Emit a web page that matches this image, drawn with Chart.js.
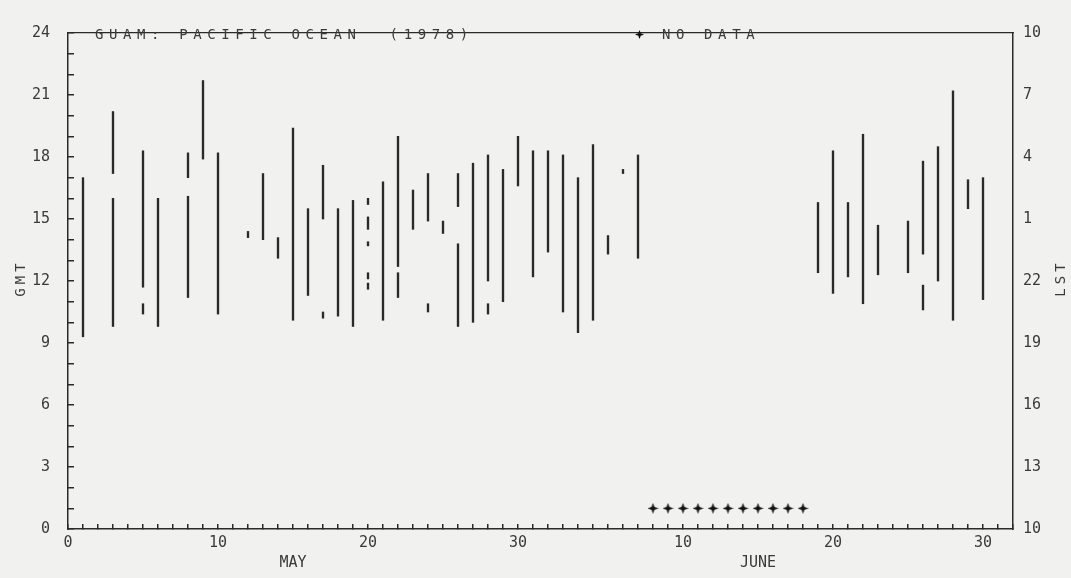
<!doctype html>
<html lang="en">
<head>
<meta charset="UTF-8" />
<title>Guam 1978</title>
<style>
  html, body { margin: 0; padding: 0; background: #f1f1ef; }
  #wrap { width: 1071px; height: 578px; }
</style>
</head>
<body>
<div id="wrap"><canvas id="chart"></canvas></div>

<script src="https://cdn.jsdelivr.net/npm/chart.js"></script>
<script>
// observation segments: day counted from May 0, start / end hour (GMT)
const segDay = [1,3,3,5,5,6,8,8,9,10,12,13,14,15,16,17,17,18,19,20,20,20,20,20,21,22,22,23,24,24,25,26,26,27,28,28,29,30,31,32,33,34,35,36,37,38,50,51,52,53,54,56,57,57,58,59,60,61];
const segStart = [9.3,17.2,9.8,11.7,10.4,9.8,17.0,11.2,17.9,10.4,14.1,14.0,13.1,10.1,11.3,15.0,10.2,10.3,9.8,15.7,14.5,13.7,12.1,11.6,10.1,12.7,11.2,14.5,14.9,10.5,14.3,15.6,9.8,10.0,12.0,10.4,11.0,16.6,12.2,13.4,10.5,9.5,10.1,13.3,17.2,13.1,12.4,11.4,12.2,10.9,12.3,12.4,13.3,10.6,12.0,10.1,15.5,11.1];
const segEnd = [17.0,20.2,16.0,18.3,10.9,16.0,18.2,16.1,21.7,18.2,14.4,17.2,14.1,19.4,15.5,17.6,10.5,15.5,15.9,16.0,15.1,13.9,12.4,11.9,16.8,19.0,12.4,16.4,17.2,10.9,14.9,17.2,13.8,17.7,18.1,10.9,17.4,19.0,18.3,18.3,18.1,17.0,18.6,14.2,17.4,18.1,15.8,18.3,15.8,19.1,14.7,14.9,17.8,11.8,18.5,21.2,16.9,17.0];

// days with no data (June 8 - June 18), marked at 1 GMT
const noDataDays = [39,40,41,42,43,44,45,46,47,48,49];
const noDataHour = 1;

// axis labels
const xLabelDays = [0,10,20,30,41,51,61];
const xLabelText = ['0','10','20','30','10','20','30'];
const monthDays = [15,46];
const monthNames = ['MAY','JUNE'];
const gmtTicks = [0,3,6,9,12,15,18,21,24];
const lstLabels = ['10','13','16','19','22','1','4','7','10'];

const ink = '#2a2a2a';
const textInk = '#3a3a3a';
const monoFont = 'DejaVu Sans Mono';

// little four pointed star for the "no data" marks
function makeStar(size) {
    const c = document.createElement('canvas');
    c.width = size; c.height = size;
    const g = c.getContext('2d');
    const m = size / 2, r = size / 2, ri = size * 0.18;
    g.fillStyle = '#111';
    g.beginPath();
    for (let i = 0; i < 8; i++) {
        const a = -Math.PI / 2 + i * Math.PI / 4;
        const rr = i % 2 === 0 ? r : ri;
        g.lineTo(m + rr * Math.cos(a), m + rr * Math.sin(a));
    }
    g.closePath();
    g.fill();
    return c;
}
const star = makeStar(11);

const dayTicks = [];
for (let d = 0; d <= 63; d++) dayTicks.push(d);
const hourTicks = [];
for (let h = 0; h <= 24; h++) hourTicks.push(h);

const textPlugin = {
    id: 'plotText',
    afterDraw(chart) {
        const c = chart.ctx;
        c.save();
        c.fillStyle = textInk;
        c.textBaseline = 'middle';
        c.font = '14px "' + monoFont + '"';
        c.letterSpacing = '5.6px';
        c.fillText('GUAM: PACIFIC OCEAN  (1978)', 95, 35);
        c.drawImage(star, 635, 30, 9, 9);
        c.fillText('NO DATA', 662, 35);

        c.letterSpacing = '4px';
        c.save();
        c.translate(21, 278);
        c.rotate(-Math.PI / 2);
        c.textAlign = 'center';
        c.fillText('GMT', 0, 0);
        c.restore();

        c.save();
        c.translate(1061, 278);
        c.rotate(-Math.PI / 2);
        c.textAlign = 'center';
        c.fillText('LST', 0, 0);
        c.restore();
        c.restore();
    }
};

const ctx = document.getElementById('chart').getContext('2d');

new Chart(ctx, {
    data: {
        datasets: [
            {
                type: 'bar',
                label: 'observed',
                data: segDay.map((d, i) => ({ x: d, y: [segStart[i], segEnd[i]] })),
                backgroundColor: ink,
                borderWidth: 0,
                barThickness: 1.7,
                xAxisID: 'x',
                yAxisID: 'y',
            },
            {
                type: 'scatter',
                label: 'no data',
                data: noDataDays.map(d => ({ x: d, y: noDataHour })),
                pointStyle: star,
                pointRadius: 5,
                xAxisID: 'x',
                yAxisID: 'y',
            },
        ],
    },
    options: {
        responsive: true,
        maintainAspectRatio: false,
        animation: false,
        layout: { padding: 0 },
        plugins: { legend: { display: false }, tooltip: { enabled: false } },
        scales: {
            x: {
                type: 'linear',
                position: 'bottom',
                min: 0,
                max: 63,
                offset: false,
                afterBuildTicks: s => { s.ticks = dayTicks.map(v => ({ value: v })); },
                afterFit: s => { s.height = 49; },
                ticks: {
                    autoSkip: false,
                    maxRotation: 0,
                    minRotation: 0,
                    padding: 9,
                    color: textInk,
                    font: { family: monoFont, size: 15, lineHeight: 1.35 },
                    callback: v => {
                        const i = xLabelDays.indexOf(v);
                        if (i >= 0) return xLabelText[i];
                        const m = monthDays.indexOf(v);
                        if (m >= 0) return ['', monthNames[m]];
                        return '';
                    },
                },
                grid: { drawOnChartArea: false, offset: false, tickLength: -5, color: ink, lineWidth: 1.5 },
                border: { color: ink, width: 1.5 },
            },
            x2: {
                type: 'linear',
                position: 'top',
                min: 0,
                max: 63,
                offset: false,
                afterFit: s => { s.height = 23; },
                ticks: { display: false },
                grid: { drawOnChartArea: false, drawTicks: false },
                border: { color: ink, width: 1.3, dash: [26, 5, 9, 4] },
            },
            y: {
                type: 'linear',
                position: 'left',
                min: 0,
                max: 24,
                afterBuildTicks: s => { s.ticks = hourTicks.map(v => ({ value: v })); },
                afterFit: s => { s.width = 68; },
                ticks: {
                    autoSkip: false,
                    padding: 24,
                    color: textInk,
                    font: { family: monoFont, size: 15 },
                    callback: v => (v % 3 === 0 ? String(v) : ''),
                },
                grid: { drawOnChartArea: false, tickLength: -6, color: ink, lineWidth: 1.5 },
                border: { color: ink, width: 1.5 },
            },
            y2: {
                type: 'linear',
                position: 'right',
                min: 0,
                max: 24,
                afterBuildTicks: s => { s.ticks = gmtTicks.map(v => ({ value: v })); },
                afterFit: s => { s.width = 58; },
                ticks: {
                    autoSkip: false,
                    padding: 10,
                    color: textInk,
                    font: { family: monoFont, size: 15 },
                    callback: v => lstLabels[gmtTicks.indexOf(v)],
                },
                grid: { drawOnChartArea: false, drawTicks: false },
                border: { color: ink, width: 1.5 },
            },
        },
    },
    plugins: [textPlugin],
});
</script>
</body>
</html>
